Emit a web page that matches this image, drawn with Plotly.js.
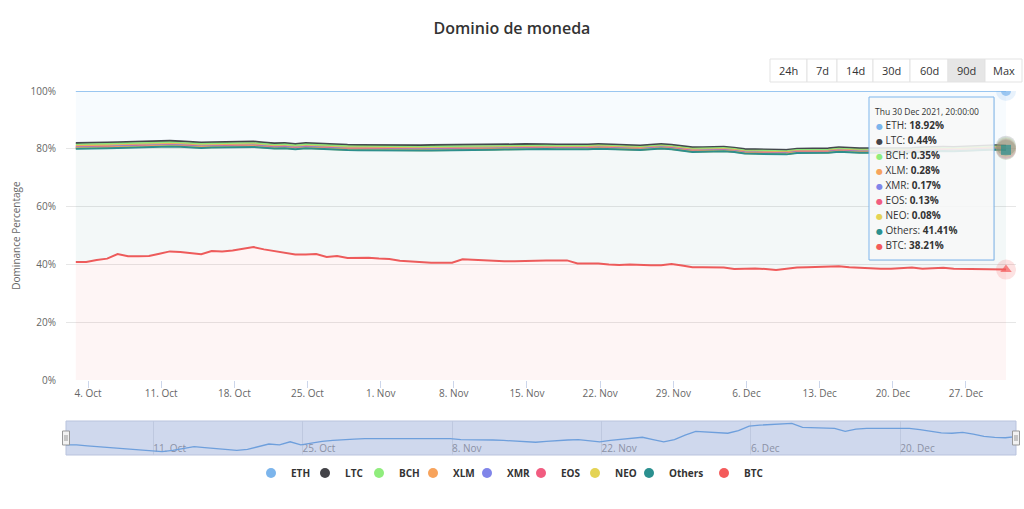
<!DOCTYPE html>
<html><head><meta charset="utf-8">
<script src="https://cdn.plot.ly/plotly-3.0.1.min.js"></script>
<style>html,body{margin:0;padding:0;background:#fff}#chart{width:1024px;height:509px}</style>
</head><body><div id="chart"></div>
<script>
// ---------------- data ----------------
const TITLE = 'Dominio de moneda';
const Y_TITLE = 'Dominance Percentage';
const FIRST_POINT = Date.UTC(2021, 9, 2, 20);   // first daily sample (2 Oct 2021, 20:00)
const TOOLTIP_HEADER = 'Thu 30 Dec 2021, 20:00:00';
const RANGE_BUTTONS = ['24h', '7d', '14d', '30d', '60d', '90d', 'Max'];
const SELECTED_BUTTON = '90d';
const Y_TICKS = [0, 20, 40, 60, 80, 100];
const Y_TICK_LABELS = ['0%', '20%', '40%', '60%', '80%', '100%'];

const SERIES_LEGEND = ['ETH', 'LTC', 'BCH', 'XLM', 'XMR', 'EOS', 'NEO', 'Others', 'BTC'];

const ETH = [18.0,18.0,17.9,17.8,17.7,17.6,17.5,17.4,17.3,17.25,
 17.4,17.6,17.8,17.7,17.6,17.45,17.4,17.5,17.8,18.1,
 18.0,18.35,18.0,18.2,18.4,18.5,18.6,18.65,18.7,18.7,
 18.75,18.75,18.7,18.75,18.7,18.7,18.7,18.6,18.6,18.6,
 18.55,18.5,18.45,18.35,18.3,18.4,18.5,18.55,18.6,18.5,
 18.35,18.5,18.6,18.7,18.85,18.6,18.35,18.6,19.1,19.5,
 19.45,19.35,19.3,19.6,20.1,20.2,20.25,20.3,20.4,19.95,
 19.9,19.9,19.85,19.5,19.75,19.85,19.85,19.85,19.85,19.85,
 19.7,19.5,19.35,19.3,19.4,19.2,18.95,18.85,18.8,18.92];

const LTC = [0.57,0.57,0.58,0.58,0.59,0.58,0.57,0.57,0.56,0.57,
 0.57,0.58,0.57,0.58,0.58,0.57,0.57,0.56,0.56,0.55,
 0.55,0.54,0.54,0.55,0.55,0.56,0.55,0.55,0.56,0.57,
 0.58,0.59,0.60,0.61,0.62,0.63,0.62,0.61,0.60,0.59,
 0.58,0.57,0.56,0.55,0.55,0.54,0.53,0.52,0.51,0.50,
 0.49,0.49,0.50,0.50,0.49,0.49,0.48,0.48,0.49,0.49,
 0.48,0.48,0.47,0.47,0.46,0.46,0.47,0.47,0.47,0.46,
 0.46,0.46,0.45,0.45,0.45,0.45,0.46,0.46,0.46,0.45,
 0.45,0.45,0.45,0.44,0.44,0.45,0.44,0.44,0.44,0.44];

const BCH = [0.50,0.50,0.51,0.51,0.50,0.49,0.49,0.48,0.48,0.49,
 0.49,0.48,0.48,0.47,0.47,0.47,0.46,0.46,0.46,0.46,
 0.45,0.45,0.46,0.46,0.46,0.47,0.47,0.46,0.46,0.47,
 0.47,0.46,0.46,0.45,0.45,0.44,0.44,0.44,0.43,0.43,
 0.43,0.43,0.42,0.42,0.41,0.41,0.41,0.40,0.40,0.40,
 0.40,0.40,0.40,0.39,0.39,0.39,0.39,0.38,0.38,0.38,
 0.38,0.38,0.37,0.37,0.37,0.37,0.37,0.36,0.36,0.36,
 0.36,0.36,0.36,0.36,0.36,0.36,0.36,0.36,0.35,0.35,
 0.35,0.35,0.35,0.35,0.35,0.35,0.35,0.35,0.35,0.35];

const XLM = [0.36,0.36,0.37,0.37,0.36,0.36,0.36,0.35,0.35,0.35,
 0.35,0.35,0.34,0.34,0.34,0.34,0.34,0.33,0.33,0.33,
 0.33,0.32,0.32,0.32,0.33,0.33,0.33,0.33,0.33,0.33,
 0.34,0.34,0.34,0.34,0.33,0.33,0.33,0.33,0.33,0.32,
 0.32,0.32,0.32,0.31,0.31,0.31,0.31,0.31,0.30,0.30,
 0.30,0.30,0.30,0.30,0.30,0.29,0.29,0.29,0.30,0.30,
 0.30,0.30,0.30,0.29,0.29,0.29,0.29,0.29,0.29,0.29,
 0.29,0.29,0.29,0.29,0.28,0.28,0.28,0.28,0.28,0.28,
 0.28,0.28,0.28,0.28,0.28,0.28,0.28,0.28,0.28,0.28];

const XMR = [0.21,0.21,0.21,0.21,0.21,0.21,0.21,0.21,0.21,0.21,
 0.21,0.21,0.21,0.20,0.20,0.20,0.20,0.20,0.20,0.20,
 0.20,0.20,0.20,0.20,0.20,0.20,0.20,0.20,0.20,0.20,
 0.20,0.20,0.20,0.20,0.20,0.20,0.19,0.19,0.19,0.19,
 0.19,0.19,0.19,0.19,0.19,0.19,0.19,0.19,0.19,0.19,
 0.19,0.19,0.19,0.19,0.18,0.18,0.18,0.18,0.18,0.18,
 0.18,0.18,0.18,0.18,0.18,0.18,0.18,0.18,0.18,0.18,
 0.18,0.18,0.18,0.18,0.17,0.17,0.17,0.17,0.17,0.17,
 0.17,0.17,0.17,0.17,0.17,0.17,0.17,0.17,0.17,0.17];

const EOS = [0.20,0.20,0.20,0.20,0.20,0.19,0.19,0.19,0.19,0.19,
 0.19,0.19,0.19,0.18,0.18,0.18,0.18,0.18,0.18,0.18,
 0.18,0.18,0.18,0.18,0.18,0.17,0.17,0.17,0.17,0.17,
 0.17,0.17,0.17,0.17,0.17,0.17,0.17,0.16,0.16,0.16,
 0.16,0.16,0.16,0.16,0.16,0.16,0.15,0.15,0.15,0.15,
 0.15,0.15,0.15,0.15,0.15,0.15,0.15,0.14,0.14,0.14,
 0.14,0.14,0.14,0.14,0.14,0.14,0.14,0.14,0.14,0.14,
 0.14,0.14,0.14,0.14,0.13,0.13,0.13,0.13,0.13,0.13,
 0.13,0.13,0.13,0.13,0.13,0.13,0.13,0.13,0.13,0.13];

const NEO = [0.12,0.12,0.12,0.12,0.12,0.12,0.12,0.12,0.12,0.12,
 0.12,0.12,0.12,0.11,0.11,0.11,0.11,0.11,0.11,0.11,
 0.11,0.11,0.11,0.11,0.11,0.11,0.11,0.11,0.11,0.11,
 0.11,0.11,0.11,0.11,0.11,0.11,0.10,0.10,0.10,0.10,
 0.10,0.10,0.10,0.10,0.10,0.10,0.10,0.10,0.10,0.10,
 0.10,0.10,0.09,0.09,0.09,0.09,0.09,0.09,0.09,0.09,
 0.09,0.09,0.09,0.09,0.09,0.09,0.09,0.09,0.09,0.09,
 0.09,0.09,0.09,0.09,0.09,0.09,0.08,0.08,0.08,0.08,
 0.08,0.08,0.08,0.08,0.08,0.08,0.08,0.08,0.08,0.08];

const OTHERS = [39.24,39.24,38.62,38.22,36.72,37.65,37.76,37.78,37.09,36.32,
 36.37,36.47,36.79,35.82,36.02,35.88,35.44,34.66,35.16,35.47,
 36.38,36.45,36.79,36.38,37.17,36.76,37.37,37.23,37.17,37.45,
 37.48,38.08,38.42,38.67,38.82,38.82,38.85,37.77,37.99,38.21,
 38.57,38.63,38.70,38.83,38.69,38.51,38.53,38.40,39.47,39.48,
 39.74,39.89,39.99,39.70,39.77,40.13,40.39,39.76,39.74,39.94,
 40.00,40.20,40.27,40.48,39.79,39.69,39.83,40.09,39.59,39.65,
 39.60,39.50,39.36,39.61,39.78,39.88,40.07,40.17,40.18,39.99,
 39.94,40.54,40.59,40.45,40.65,40.94,41.30,41.40,41.55,41.41];

const BTC = [40.8,40.8,41.5,42.0,43.6,42.8,42.8,42.9,43.7,44.5,
 44.3,44.0,43.5,44.6,44.5,44.8,45.3,46.0,45.2,44.6,
 43.8,43.4,43.4,43.6,42.6,42.9,42.2,42.3,42.3,42.0,
 41.9,41.3,41.0,40.7,40.6,40.6,40.6,41.8,41.6,41.4,
 41.1,41.1,41.1,41.1,41.3,41.4,41.3,41.4,40.3,40.4,
 40.3,40.0,39.8,40.0,39.8,39.7,39.7,40.1,39.6,39.0,
 39.0,38.9,38.9,38.4,38.6,38.6,38.4,38.1,38.5,38.9,
 39.0,39.1,39.3,39.4,39.0,38.8,38.6,38.5,38.5,38.7,
 38.9,38.5,38.6,38.8,38.5,38.4,38.3,38.3,38.2,38.21];

// ---------------- styling ----------------
const VALUES = {ETH, LTC, BCH, XLM, XMR, EOS, NEO, Others: OTHERS, BTC};
const COLORS = {ETH:'#7cb5ec', LTC:'#434348', BCH:'#90ed7d', XLM:'#f7a35c', XMR:'#8085e9',
                EOS:'#f15c80', NEO:'#e4d354', Others:'#2b908f', BTC:'#f45b5b'};
const SYMBOLS = {ETH:'circle', LTC:'diamond', BCH:'square', XLM:'triangle-up', XMR:'triangle-down',
                 EOS:'circle', NEO:'diamond', Others:'square', BTC:'triangle-up'};
const SHOW_POINT = {ETH:true, Others:true, BTC:true};
const LEGEND_W = {Others: 30, BTC: 22};
const FONT = '"Open Sans", "DejaVu Sans", sans-serif';

function rgba(hex, a) {
  const n = parseInt(hex.slice(1), 16);
  return `rgba(${n >> 16},${(n >> 8) & 255},${n & 255},${a})`;
}

const dates = BTC.map((_, i) => new Date(FIRST_POINT + i * 864e5).toISOString().slice(0, 19).replace('T', ' '));
const last = dates.length - 1;
const STACK = SERIES_LEGEND.slice().reverse();   // bottom of stack first

// pixel helpers for layout furniture
const L = 66, R = 1016, T = 91, B = 455;
const px = x => (x - L) / (R - L);
const py = y => (B - y) / (B - T);

const traces = [];
// lines first, in lower layers (later legend series drawn on top, like the original)
STACK.forEach((s, k) => traces.push({
  x: dates, y: VALUES[s], name: s, type: 'scatter', mode: 'lines',
  stackgroup: 'line', groupnorm: k === 0 ? 'percent' : undefined, fill: 'none',
  line: {color: COLORS[s], width: s === 'ETH' ? 1.3 : 2}, zorder: -20 + SERIES_LEGEND.indexOf(s),
  showlegend: false, hoverinfo: 'skip'
}));
// translucent fills
STACK.forEach((s, k) => traces.push({
  x: dates, y: VALUES[s], name: s, type: 'scatter', mode: 'none',
  stackgroup: 'fill', groupnorm: k === 0 ? 'percent' : undefined,
  fill: k === 0 ? 'tozeroy' : 'tonexty', fillcolor: rgba(COLORS[s], 0.06),
  showlegend: false, hoverinfo: 'skip'
}));
// hover halos
STACK.forEach((s, k) => traces.push({
  x: dates, y: VALUES[s], name: s, type: 'scatter', mode: 'markers',
  stackgroup: 'halo', groupnorm: k === 0 ? 'percent' : undefined, fill: 'none',
  marker: {color: rgba(COLORS[s], 0.25), size: dates.map((_, i) => i === last ? 20 : 0), symbol: 'circle', line: {width: 0}},
  cliponaxis: false, showlegend: false, hoverinfo: 'skip'
}));
// hover points
STACK.forEach((s, k) => traces.push({
  x: dates, y: VALUES[s], name: s, type: 'scatter', mode: 'markers',
  stackgroup: 'pts', groupnorm: k === 0 ? 'percent' : undefined, fill: 'none',
  marker: {color: COLORS[s], size: dates.map((_, i) => (i === last && SHOW_POINT[s]) ? 10 : 0), symbol: SYMBOLS[s], line: {width: 0}},
  cliponaxis: false, showlegend: false, hoverinfo: 'skip'
}));
// navigator line
traces.push({
  x: dates, y: ETH, xaxis: 'x2', yaxis: 'y2', type: 'scatter', mode: 'lines',
  line: {color: '#6e9fdc', width: 1.3}, showlegend: false, hoverinfo: 'skip'
});
// legend entries
SERIES_LEGEND.forEach(s => traces.push({
  x: [null], y: [null], name: s, type: 'scatter', mode: 'markers',
  marker: {color: COLORS[s], size: 10, symbol: 'circle'},
  legendwidth: LEGEND_W[s] || 9, hoverinfo: 'skip'
}));

// ---------------- furniture ----------------
const shapes = [];
const annotations = [];

// navigator mask + handles
shapes.push({type: 'rect', xref: 'x2 domain', yref: 'y2 domain', x0: 0, x1: 1, y0: 0, y1: 1,
  fillcolor: '#cfd8ed', line: {color: '#b9c3dd', width: 1}, layer: 'below'});
[L, R].forEach(hx => {
  shapes.push({type: 'rect', xref: 'paper', yref: 'paper', x0: px(hx - 3.5), x1: px(hx + 3.5), y0: py(445), y1: py(431),
    fillcolor: '#f2f2f2', line: {color: '#999999', width: 1}, layer: 'above'});
  [-1, 1].forEach(d => shapes.push({type: 'line', xref: 'paper', yref: 'paper', x0: px(hx + d), x1: px(hx + d),
    y0: py(441), y1: py(435), line: {color: '#999999', width: 1}, layer: 'above'}));
});

// range buttons
const BTN_EDGES = [770, 807, 837, 873, 910, 948, 985, 1022];
RANGE_BUTTONS.forEach((b, i) => {
  const sel = b === SELECTED_BUTTON;
  shapes.push({type: 'rect', xref: 'paper', yref: 'paper', x0: px(BTN_EDGES[i]), x1: px(BTN_EDGES[i + 1]),
    y0: py(82), y1: py(59), fillcolor: sel ? '#e6e6e6' : '#ffffff', line: {color: '#e3e3e3', width: 1}, layer: 'above'});
  annotations.push({xref: 'paper', yref: 'paper', x: px((BTN_EDGES[i] + BTN_EDGES[i + 1]) / 2), y: py(71),
    text: b, showarrow: false, xanchor: 'center', yanchor: 'middle', font: {size: 11, color: '#333333', family: FONT}});
});

// tooltip
shapes.push({type: 'rect', xref: 'paper', yref: 'paper', x0: px(870), x1: px(995), y0: py(261), y1: py(98),
  fillcolor: 'rgba(0,0,0,0.06)', line: {width: 0}, layer: 'above'});
shapes.push({type: 'rect', xref: 'paper', yref: 'paper', x0: px(869), x1: px(994), y0: py(260), y1: py(97),
  fillcolor: 'rgba(250,250,250,0.86)', line: {color: '#7cb5ec', width: 1}, layer: 'above'});
annotations.push({xref: 'paper', yref: 'paper', x: px(873), y: py(111), xanchor: 'left', yanchor: 'middle',
  text: TOOLTIP_HEADER, showarrow: false, font: {size: 8.5, color: '#333333', family: FONT}});
SERIES_LEGEND.forEach((s, k) => annotations.push({
  xref: 'paper', yref: 'paper', x: px(874), y: py(125 + 15 * k), xanchor: 'left', yanchor: 'middle', showarrow: false,
  text: `<span style="color:${COLORS[s]};font-size:8px">●</span> ${s}: <b>${VALUES[s][last].toFixed(2)}%</b>`,
  font: {size: 10, color: '#333333', family: FONT}
}));

const layout = {
  width: 1024, height: 509,
  margin: {l: L, r: 1024 - R, t: T, b: 509 - B, autoexpand: false},
  paper_bgcolor: '#ffffff', plot_bgcolor: '#ffffff',
  font: {family: FONT, color: '#666666'},
  title: {text: TITLE, x: 0.5, xref: 'container', xanchor: 'center', y: 1 - 28 / 509, yref: 'container', yanchor: 'middle',
    font: {size: 16, color: '#333333', family: FONT, weight: 600}},
  hovermode: false,
  showlegend: true,
  legend: {orientation: 'h', x: px(251), xanchor: 'left', y: py(473), yanchor: 'middle',
    font: {size: 10, color: '#333333', family: FONT, weight: 700}, traceorder: 'normal', bgcolor: 'rgba(0,0,0,0)'},
  xaxis: {
    type: 'date', domain: [0, 1], anchor: 'y',
    range: ['2021-10-01 21:29', '2021-12-31 18:55'],
    tick0: '2021-10-04', dtick: 7 * 864e5, tickformat: '%-d. %b',
    ticks: 'outside', ticklen: 7, tickcolor: '#ccd6eb', tickwidth: 1, ticklabelstandoff: -3,
    showline: true, linecolor: '#ccd6eb', linewidth: 1,
    showgrid: false, zeroline: false,
    tickfont: {size: 10, color: '#666666'}
  },
  yaxis: {
    domain: [py(380), 1], anchor: 'x', range: [0, 100],
    tickmode: 'array', tickvals: Y_TICKS, ticktext: Y_TICK_LABELS,
    showgrid: true, gridcolor: '#e6e6e6', gridwidth: 1, zeroline: false, showline: false,
    ticks: '', ticklabelstandoff: 9,
    tickfont: {size: 10, color: '#666666'},
    title: {text: Y_TITLE, font: {size: 10, color: '#666666'}, standoff: 8}
  },
  xaxis2: {
    type: 'date', domain: [0, 1], anchor: 'y2',
    range: [dates[0], dates[last]],
    tick0: '2021-10-11', dtick: 14 * 864e5, tickformat: '%-d. %b',
    ticks: '', ticklabelposition: 'inside right', ticklabelstandoff: -5,
    showgrid: true, gridcolor: '#bec8df', zeroline: false, showline: false,
    tickfont: {size: 10, color: '#8b91a5'}
  },
  yaxis2: {domain: [0, py(421)], anchor: 'x2', range: [16.88, 20.66], visible: false, showgrid: false, zeroline: false},
  shapes, annotations
};

Plotly.newPlot('chart', traces, layout, {displayModeBar: false, staticPlot: true});
</script>
</body></html>
